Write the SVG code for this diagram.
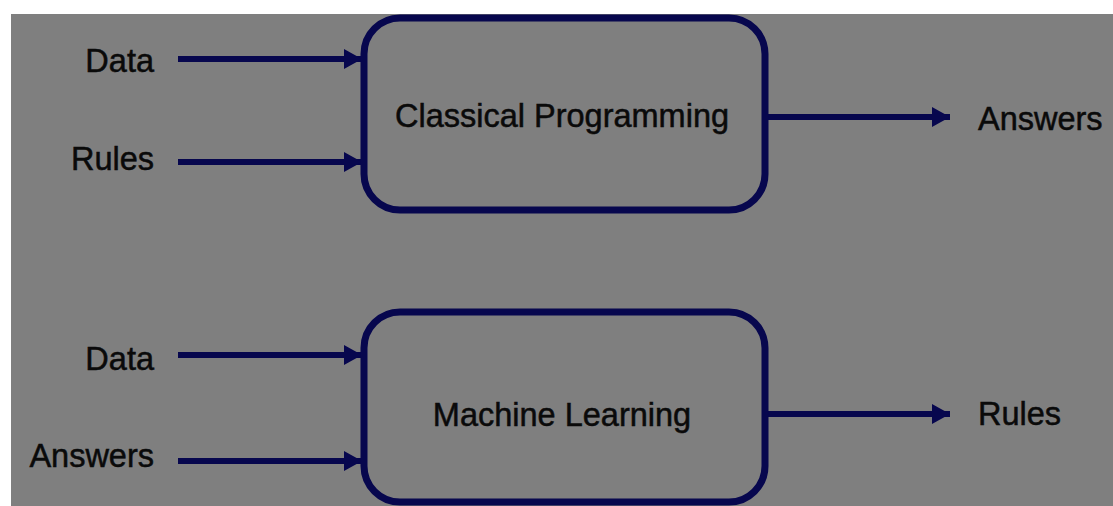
<svg xmlns="http://www.w3.org/2000/svg" width="1113" height="506" viewBox="0 0 1113 506">
<style>
.lbl{font-family:"Liberation Sans",Arial,sans-serif;font-size:32.5px;fill:#0a0a0a;stroke:#0a0a0a;stroke-width:0.5}
.box{fill:none;stroke:#07074e;stroke-width:7}
.ln{stroke:#07074e;stroke-width:6;fill:none}
</style>
<defs>
<marker id="ah" markerUnits="userSpaceOnUse" markerWidth="20" markerHeight="22" refX="18" refY="10" orient="auto">
<path d="M0,0 L18,10 L0,20 Z" fill="#07074e"/>
</marker>
</defs>
<rect x="0" y="0" width="1113" height="506" fill="#ffffff"/>
<rect x="11" y="14" width="1102" height="492" fill="#7f7f7f"/>
<g id="connectors">
<line class="ln" x1="178" y1="59" x2="362" y2="59" marker-end="url(#ah)"/>
<line class="ln" x1="178" y1="162" x2="362" y2="162" marker-end="url(#ah)"/>
<line class="ln" x1="765" y1="117" x2="950" y2="117" marker-end="url(#ah)"/>
<line class="ln" x1="178" y1="355" x2="362" y2="355" marker-end="url(#ah)"/>
<line class="ln" x1="178" y1="461" x2="362" y2="461" marker-end="url(#ah)"/>
<line class="ln" x1="765" y1="414" x2="950" y2="414" marker-end="url(#ah)"/>
</g>
<g id="node-classical">
<rect class="box" x="364" y="18" width="401" height="192" rx="36"/>
<text class="lbl" x="562" y="127" text-anchor="middle">Classical Programming</text>
</g>
<g id="node-ml">
<rect class="box" x="364" y="312" width="401" height="190" rx="36"/>
<text class="lbl" x="562" y="426" text-anchor="middle">Machine Learning</text>
</g>
<g id="label-data1"><text class="lbl" x="154" y="72" text-anchor="end">Data</text></g>
<g id="label-rules1"><text class="lbl" x="154" y="170" text-anchor="end">Rules</text></g>
<g id="label-answers1"><text class="lbl" x="978" y="130">Answers</text></g>
<g id="label-data2"><text class="lbl" x="154" y="370" text-anchor="end">Data</text></g>
<g id="label-answers2"><text class="lbl" x="154" y="467" text-anchor="end">Answers</text></g>
<g id="label-rules2"><text class="lbl" x="978" y="425">Rules</text></g>
</svg>
